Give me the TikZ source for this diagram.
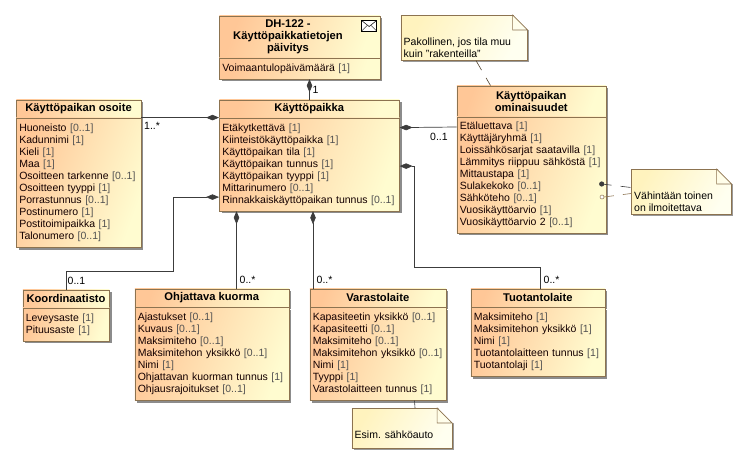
\documentclass[tikz,border=0pt]{standalone}
\usepackage{fontspec}
\setmainfont{Liberation Sans}
\usepackage{xcolor}
\usetikzlibrary{arrows.meta,positioning,calc,shadows}
\definecolor{umlA}{HTML}{FFC797}
\definecolor{umlB}{HTML}{FFFCD0}
\definecolor{noteA}{HTML}{FFF3BE}
\definecolor{noteB}{HTML}{FFFFF0}
\definecolor{umlEdge}{HTML}{8C7350}
\definecolor{umlLine}{HTML}{3C3C3C}
\newcommand{\mlt}[1]{\unskip~\textcolor{black!68}{[#1]}}
\newcommand{\umlclass}[6]{%
\node[hd,minimum width=#3,minimum height=#4] (#1H) at (#2) {#5};
\node[bd,minimum width=#3,text width=#3-6pt,minimum height=#6] (#1B) at (#1H.south west) {\csname attr#1\endcsname};}
\newcommand{\notebox}[6]{%
\node[nt,minimum width=#3,minimum height=#4] (#1) at (#2) {};
\fill[white] ([shift={(-15,-1)}]#1.north east)--([shift={(4,-1)}]#1.north east)--([shift={(4,15)}]#1.north east)--([shift={(0,15)}]#1.north east)--cycle;
\draw[umlEdge,line width=0.6pt] ([shift={(-15,0)}]#1.north east)--([shift={(0,15)}]#1.north east)--([shift={(-15,15)}]#1.north east)--cycle;
\node[nttxt] (#1T) at ([shift={(3,-#5)}]#1.south west) {#6};}
\newcommand{\attrosoite}{Huoneisto \mlt{0..1}\\Kadunnimi \mlt{1}\\Kieli \mlt{1}\\Maa \mlt{1}\\Osoitteen tarkenne \mlt{0..1}\\Osoitteen tyyppi \mlt{1}\\Porrastunnus \mlt{0..1}\\Postinumero \mlt{1}\\Postitoimipaikka \mlt{1}\\Talonumero \mlt{0..1}}
\newcommand{\attrviesti}{Voimaantulopäivämäärä \mlt{1}}
\newcommand{\attrpaikka}{Etäkytkettävä \mlt{1}\\Kiinteistökäyttöpaikka \mlt{1}\\Käyttöpaikan tila \mlt{1}\\Käyttöpaikan tunnus \mlt{1}\\Käyttöpaikan tyyppi \mlt{1}\\Mittarinumero \mlt{0..1}\\Rinnakkaiskäyttöpaikan tunnus \mlt{0..1}}
\newcommand{\attromin}{Etäluettava \mlt{1}\\Käyttäjäryhmä \mlt{1}\\Loissähkösarjat saatavilla \mlt{1}\\Lämmitys riippuu sähköstä \mlt{1}\\Mittaustapa \mlt{1}\\Sulakekoko \mlt{0..1}\\Sähköteho \mlt{0..1}\\Vuosikäyttöarvio \mlt{1}\\Vuosikäyttöarvio 2 \mlt{0..1}}
\newcommand{\attrkoord}{Leveysaste \mlt{1}\\Pituusaste \mlt{1}}
\newcommand{\attrkuorma}{Ajastukset \mlt{0..1}\\Kuvaus \mlt{0..1}\\Maksimiteho \mlt{0..1}\\Maksimitehon yksikkö \mlt{0..1}\\Nimi \mlt{1}\\Ohjattavan kuorman tunnus \mlt{1}\\Ohjausrajoitukset \mlt{0..1}}
\newcommand{\attrvarasto}{Kapasiteetin yksikkö \mlt{0..1}\\Kapasiteetti \mlt{0..1}\\Maksimiteho \mlt{0..1}\\Maksimitehon yksikkö \mlt{0..1}\\Nimi \mlt{1}\\Tyyppi \mlt{1}\\Varastolaitteen tunnus \mlt{1}}
\newcommand{\attrtuotanto}{Maksimiteho \mlt{1}\\Maksimitehon yksikkö \mlt{1}\\Nimi \mlt{1}\\Tuotantolaitteen tunnus \mlt{1}\\Tuotantolaji \mlt{1}}
\begin{document}
\begin{tikzpicture}[x=1pt,y=-1pt,
box/.style={draw=umlEdge,line width=0.6pt,inner xsep=3pt,inner ysep=0pt,anchor=north west,left color=umlA,right color=umlB,shading angle=70,drop shadow={shadow xshift=2.5pt,shadow yshift=-2.5pt,fill=black!45,opacity=1}},
hd/.style={box,align=center,font=\fontsize{11.2}{12}\selectfont\bfseries},
bd/.style={box,align=left,font=\fontsize{10.5}{12}\selectfont,text=black!92!red},
ttl/.style={inner sep=0pt,align=center,font=\fontsize{11.2}{12}\selectfont\bfseries},
nt/.style={draw=umlEdge,line width=0.6pt,inner sep=0pt,anchor=north west,left color=noteA,right color=noteB,shading angle=60,drop shadow={shadow xshift=2pt,shadow yshift=-2pt,fill=black!40,opacity=1}},
nttxt/.style={anchor=south west,inner sep=0pt,align=left,font=\fontsize{10.5}{12}\selectfont},
lbl/.style={anchor=west,inner sep=0pt,font=\fontsize{10.5}{12}\selectfont},
cn/.style={umlLine,line width=0.7pt},
comp/.style={cn,{Diamond[length=13pt,width=5.5pt]}-},
nl/.style={umlEdge!60!black,line width=0.6pt,dash pattern=on 11pt off 9pt}]
\useasboundingbox (0,0) rectangle (746,463);
\fill[white] (0,0) rectangle (746,463);
\umlclass{viesti}{219,15.5}{160.5pt}{41.5pt}{}{21pt}
\node[ttl] (viestiT) at ([shift={(69,0)}]viestiH.west) {DH-122 -\\Käyttöpaikkatietojen\\päivitys};
\umlclass{paikka}{219,99.5}{180pt}{17.5pt}{Käyttöpaikka}{93pt}
\umlclass{osoite}{16,99.5}{124.5pt}{17.5pt}{Käyttöpaikan osoite}{129.5pt}
\umlclass{omin}{456.5,85.5}{149pt}{30.5pt}{Käyttöpaikan\\ominaisuudet}{116pt}
\umlclass{koord}{22.5,289.5}{86.5pt}{17.5pt}{Koordinaatisto}{33pt}
\umlclass{kuorma}{134.5,288.5}{154pt}{18pt}{Ohjattava kuorma}{93pt}
\umlclass{varasto}{309.5,288.5}{136pt}{18pt}{Varastolaite}{93pt}
\umlclass{tuotanto}{470.5,288.5}{134pt}{18pt}{Tuotantolaite}{69pt}
\notebox{noteA}{400.5,15}{126.5pt}{45pt}{3}{Pakollinen, jos tila muu\\kuin "rakenteilla"}
\notebox{noteB}{631,169}{100pt}{45pt}{3}{Vähintään toinen\\on ilmoitettava}
\notebox{noteC}{351.5,408}{100pt}{40pt}{9.5}{Esim. sähköauto}
\draw[black,line width=0.5pt,fill=white] ([shift={(-18.5,5)}]viestiH.north east) rectangle ([shift={(-3.5,15.5)}]viestiH.north east);
\draw[black,line width=0.5pt] ([shift={(-18.5,5)}]viestiH.north east)--([shift={(-11,11)}]viestiH.north east)--([shift={(-3.5,5)}]viestiH.north east);
\draw[black,line width=0.5pt] ([shift={(-18.5,15.5)}]viestiH.north east)--([shift={(-13,10)}]viestiH.north east);
\draw[black,line width=0.5pt] ([shift={(-3.5,15.5)}]viestiH.north east)--([shift={(-9,10)}]viestiH.north east);
\draw[comp] ([shift={(90.5,0)}]viestiB.south west)--([shift={(90.5,0)}]paikkaH.north west);
\draw[comp] (paikkaH.south west)--(osoiteH.south east);
\draw[comp] ([shift={(0,79.5)}]paikkaH.south west)-|(173.5,271.5)-|(koordH.north);
\draw[comp] ([shift={(17.5,0)}]paikkaB.south west)--([shift={(102,0)}]kuormaH.north west);
\draw[comp] ([shift={(94,0)}]paikkaB.south west)--([shift={(3.5,0)}]varastoH.north west);
\draw[comp] ([shift={(0,48.5)}]paikkaB.north east)-|(414.5,267.3)-|([shift={(70,0)}]tuotantoH.north west);
\draw[comp] ([shift={(0,10)}]paikkaB.north east)--([shift={(0,41.5)}]ominH.north west);
\draw[nl] ([shift={(75.5,0)}]noteA.south west)--([shift={(34,0)}]ominH.north west);
\draw[umlLine,line width=0.6pt] ([shift={(63.5,0)}]noteC.north west)--([shift={(105,0)}]varastoB.south west);
\fill[umlLine] (601.7,184) circle (2.6pt) coordinate (dotA);
\draw[umlEdge,line width=0.5pt,fill=white] (602,197) circle (2pt) coordinate (dotB);
\draw[nl,umlLine,dash pattern=on 10pt off 9pt on 10pt] (dotA)--([shift={(0,18.5)}]noteB.north west);
\draw[nl,umlEdge,dash pattern=on 10pt off 9pt on 10pt] ([shift={(2,0)}]dotB)--([shift={(0,24.5)}]noteB.north west);
\node[lbl] (mA) at (312.5,90) {1};
\node[lbl] (mB) at (144,126) {1..*};
\node[lbl] (mC) at (67.5,280.5) {0..1};
\node[lbl] (mD) at (239.5,279.5) {0..*};
\node[lbl] (mE) at (316.5,279.5) {0..*};
\node[lbl] (mF) at (430,136.5) {0..1};
\node[lbl] (mG) at (543.5,279.5) {0..*};
\end{tikzpicture}
\end{document}
